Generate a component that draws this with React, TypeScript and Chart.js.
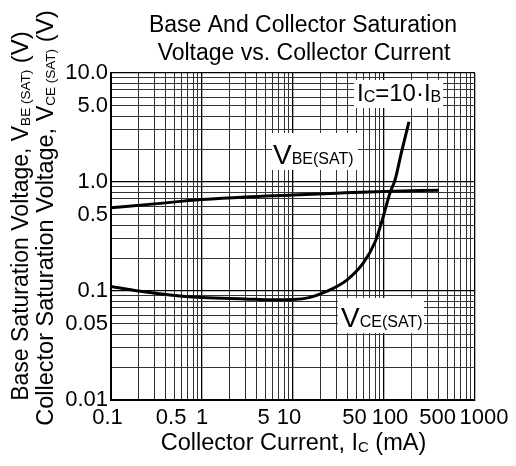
import { useEffect, useRef } from "react";
import { Chart, registerables } from "chart.js";

Chart.register(...registerables);

const FONT = "'Liberation Sans', Arial, Helvetica, sans-serif";

// ---- data ----
const TITLE_LINES = ["Base And Collector Saturation", "Voltage vs. Collector Current"];

const X_MIN = 0.1;
const X_MAX = 1000;
const Y_MIN = 0.01;
const Y_MAX = 10;

const X_TICK_VALUES = [0.1, 0.5, 1, 5, 10, 50, 100, 500, 1000];
const X_TICK_LABELS = ["0.1", "0.5", "1", "5", "10", "50", "100", "500", "1000"];
const Y_TICK_VALUES = [0.01, 0.05, 0.1, 0.5, 1, 5, 10];
const Y_TICK_LABELS = ["0.01", "0.05", "0.1", "0.5", "1.0", "5.0", "10.0"];
const GRID_MANTISSAS = [1, 2, 3, 4, 5, 6, 7, 8, 9];

// Collector current (mA) and VBE(SAT) (V)
const VBE_IC = [0.1, 0.3, 1, 3, 10, 30, 100, 400];
const VBE_V = [0.58, 0.63, 0.69, 0.73, 0.76, 0.79, 0.82, 0.84];

// Collector current (mA) and VCE(SAT) (V)
const VCE_IC = [0.1, 0.2, 0.5, 1, 3, 6, 10, 15, 23, 39, 59, 80, 98, 116, 132, 155, 188];
const VCE_V = [0.11, 0.1, 0.091, 0.087, 0.0845, 0.083, 0.0835, 0.087, 0.0985, 0.126, 0.18, 0.283, 0.48, 0.79, 1.04, 1.85, 3.57];

// ---- style (label nudges in px, applied to x tick labels) ----
const X_LABEL_NUDGE = [-3.5, -3.5, 0, -2, -4, -2, 6, -10, 9];

type Seg = { t: string; size: number; dy?: number };

function drawRich(ctx: CanvasRenderingContext2D, segs: Seg[], x: number, y: number, align: "left" | "center") {
  const widths = segs.map((s) => {
    ctx.font = `${s.size}px ${FONT}`;
    return ctx.measureText(s.t).width;
  });
  const total = widths.reduce((a, b) => a + b, 0);
  let cx = align === "center" ? x - total / 2 : x;
  ctx.textAlign = "left";
  ctx.textBaseline = "alphabetic";
  segs.forEach((s, i) => {
    ctx.font = `${s.size}px ${FONT}`;
    ctx.fillText(s.t, cx, y + (s.dy || 0));
    cx += widths[i];
  });
}

function isMajor(v: number) {
  const l = Math.log10(v);
  return Math.abs(l - Math.round(l)) < 1e-9;
}

function gridValues(min: number, max: number) {
  const out: number[] = [];
  const e0 = Math.round(Math.log10(min));
  const e1 = Math.round(Math.log10(max));
  for (let e = e0; e < e1; e++) {
    for (const m of GRID_MANTISSAS) out.push(parseFloat((m * Math.pow(10, e)).toPrecision(6)));
  }
  out.push(max);
  return out;
}

function findLabel(v: number, values: number[], labels: string[]) {
  const i = values.findIndex((t) => Math.abs(v - t) / t < 1e-6);
  return i >= 0 ? labels[i] : "";
}

const decorPlugin = {
  id: "decor",
  afterDraw(chart: any) {
    const ctx: CanvasRenderingContext2D = chart.ctx;
    const xs = chart.scales.x;
    ctx.save();
    ctx.fillStyle = "#000";

    // title
    drawRich(ctx, [{ t: TITLE_LINES[0], size: 23 }], 303, 32, "center");
    drawRich(ctx, [{ t: TITLE_LINES[1], size: 23 }], 304, 60, "center");

    // x tick labels
    ctx.font = `22px ${FONT}`;
    ctx.textAlign = "center";
    ctx.textBaseline = "alphabetic";
    X_TICK_VALUES.forEach((v, i) => {
      ctx.fillText(X_TICK_LABELS[i], xs.getPixelForValue(v) + X_LABEL_NUDGE[i], 424);
    });

    // x axis title
    drawRich(
      ctx,
      [
        { t: "Collector Current, I", size: 23.5 },
        { t: "C", size: 15, dy: 2 },
        { t: " (mA)", size: 23.5 },
      ],
      293.5,
      450,
      "center"
    );

    // y axis title (two rotated lines)
    const yLines: Seg[][] = [
      [
        { t: "Base Saturation Voltage, V", size: 23 },
        { t: "BE (SAT)", size: 13.5, dy: 2 },
        { t: " (V)", size: 24 },
      ],
      [
        { t: "Collector Saturation Voltage, V", size: 23.5 },
        { t: "CE (SAT)", size: 13.5, dy: 2 },
        { t: " (V)", size: 24 },
      ],
    ];
    const yBase = [28, 53];
    const yMid = [216, 218];
    yLines.forEach((segs, i) => {
      ctx.save();
      ctx.translate(yBase[i], yMid[i]);
      ctx.rotate(-Math.PI / 2);
      drawRich(ctx, segs, 0, 0, "center");
      ctx.restore();
    });

    // annotation boxes
    const box = (x: number, y: number, w: number, h: number) => {
      ctx.fillStyle = "#fff";
      ctx.fillRect(x, y, w, h);
      ctx.fillStyle = "#000";
    };
    box(354, 80, 89, 28);
    drawRich(
      ctx,
      [
        { t: "I", size: 24 },
        { t: "C", size: 16, dy: 1 },
        { t: "=10·I", size: 24 },
        { t: "B", size: 16, dy: 1 },
      ],
      357,
      101,
      "left"
    );
    box(272, 133, 86, 37);
    drawRich(ctx, [{ t: "V", size: 28 }, { t: "BE(SAT)", size: 16 }], 273, 163.5, "left");
    box(338, 298, 86, 35);
    drawRich(ctx, [{ t: "V", size: 28 }, { t: "CE(SAT)", size: 16 }], 341, 327, "left");

    ctx.restore();
  },
};

function gridOpts() {
  return {
    color: (c: any) => (c.tick && isMajor(c.tick.value) ? "#000" : "#333"),
    lineWidth: (c: any) => (c.tick && isMajor(c.tick.value) ? 1.3 : 1),
    drawTicks: false,
  };
}

export default function App() {
  const ref = useRef<HTMLCanvasElement>(null);
  useEffect(() => {
    const chart = new Chart(ref.current as HTMLCanvasElement, {
      type: "line",
      data: {
        datasets: [
          {
            label: "VBE(SAT)",
            data: VBE_IC.map((x, i) => ({ x, y: VBE_V[i] })),
            borderColor: "#000",
            borderWidth: 3,
            pointRadius: 0,
            cubicInterpolationMode: "monotone",
            fill: false,
          },
          {
            label: "VCE(SAT)",
            data: VCE_IC.map((x, i) => ({ x, y: VCE_V[i] })),
            borderColor: "#000",
            borderWidth: 3,
            pointRadius: 0,
            cubicInterpolationMode: "monotone",
            fill: false,
          },
        ],
      },
      options: {
        responsive: false,
        animation: false,
        layout: { padding: { top: 73, right: 41, left: 0, bottom: 0 } },
        plugins: {
          legend: { display: false },
          tooltip: { enabled: false },
          title: { display: false },
        },
        scales: {
          x: {
            type: "logarithmic",
            min: X_MIN,
            max: X_MAX,
            afterBuildTicks: (s: any) => {
              s.ticks = gridValues(X_MIN, X_MAX).map((v) => ({ value: v }));
            },
            afterFit: (s: any) => {
              s.height = 66;
            },
            ticks: { display: false, autoSkip: false },
            grid: gridOpts(),
            border: { color: "#000", width: 2 },
          },
          y: {
            type: "logarithmic",
            min: Y_MIN,
            max: Y_MAX,
            afterBuildTicks: (s: any) => {
              s.ticks = gridValues(Y_MIN, Y_MAX).map((v) => ({ value: v }));
            },
            afterFit: (s: any) => {
              s.width = 111;
            },
            ticks: {
              autoSkip: false,
              padding: 3,
              color: "#000",
              font: { family: FONT, size: 22 },
              callback: (v: any) => findLabel(Number(v), Y_TICK_VALUES, Y_TICK_LABELS),
            },
            grid: gridOpts(),
            border: { color: "#000", width: 2 },
          },
        },
      } as any,
      plugins: [decorPlugin],
    });
    return () => chart.destroy();
  }, []);
  return (
    <div style={{ position: "absolute", left: 0, top: 0, width: 516, height: 466, background: "#fff" }}>
      <canvas ref={ref} width={516} height={466} style={{ display: "block", width: 516, height: 466 }} />
    </div>
  );
}
